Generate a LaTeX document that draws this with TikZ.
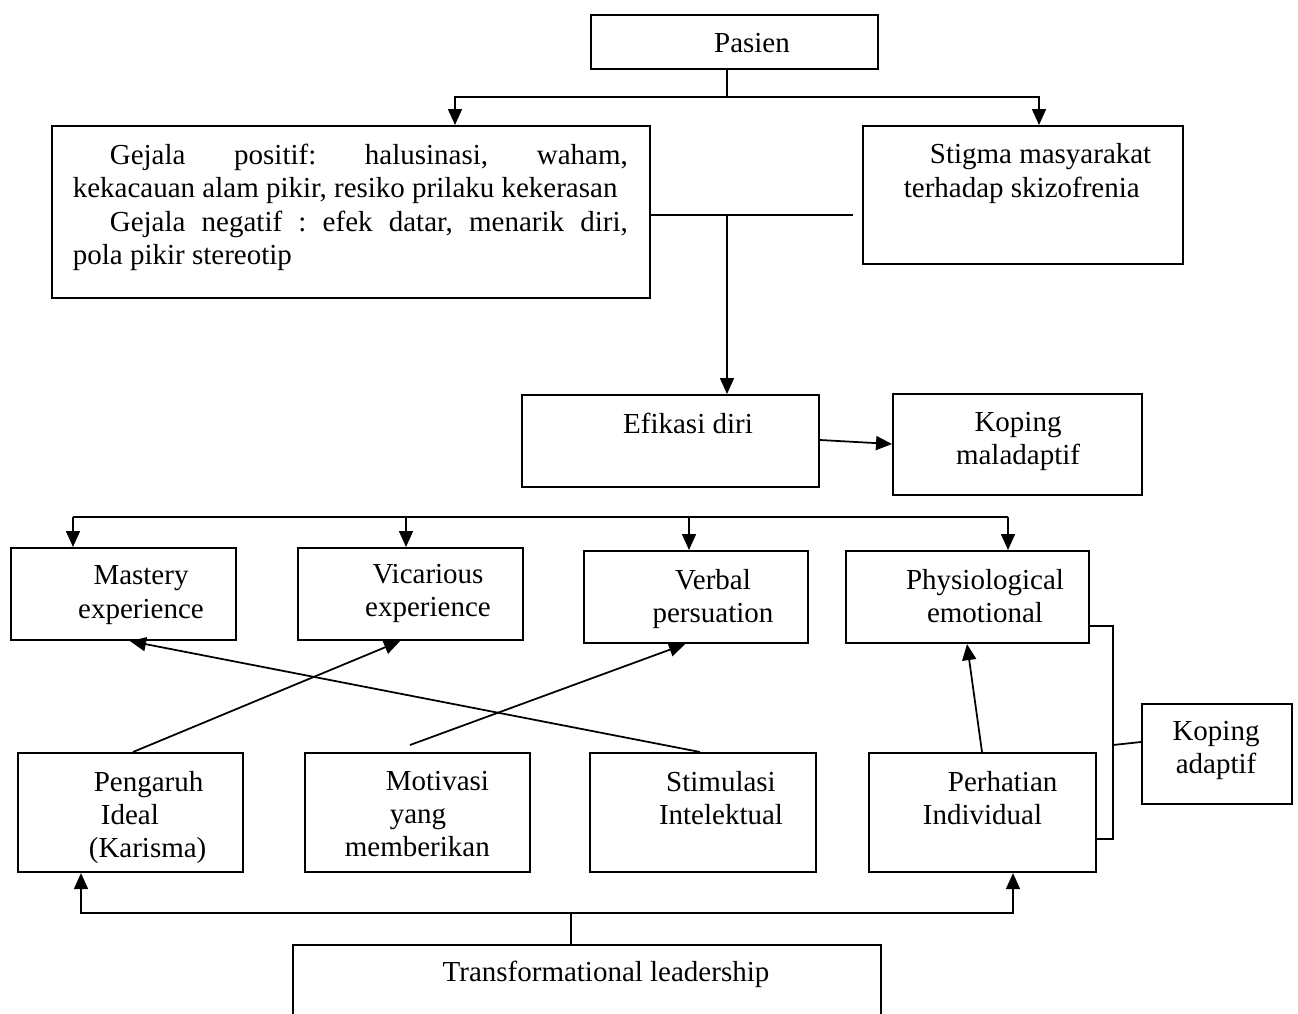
\documentclass[tikz,border=0pt]{standalone}
\usepackage{fontspec}
\setmainfont{Liberation Serif}
\usetikzlibrary{arrows.meta}
\frenchspacing

\begin{document}
\begin{tikzpicture}[x=0.02cm, y=-0.02cm, line width=1pt,
    box/.style={draw, line width=1.2pt, anchor=north west, inner sep=0},
    sz/.style 2 args={minimum width=#1*0.02cm, minimum height=#2*0.02cm},
    txt/.style={font=\fontsize{16.5}{19}\selectfont, inner sep=0, align=center, anchor=north},
    arr/.style={-{Triangle[length=0.32cm, width=0.28cm]}}]
\useasboundingbox (0,0) rectangle (1298,1014);
% boxes
\foreach \n/\x/\y/\w/\h in {pasien/590/14/287/54, gejala/51/125/598/172, stigma/862/125/320/138,
      efikasi/521/394/297/92, maladaptif/892/393/249/101,
      mastery/10/547/225/92, vicarious/297/547/225/92, verbal/583/550/224/92, physio/845/550/243/92,
      pengaruh/17/752/225/119, motivasi/304/752/225/119, stimulasi/589/752/226/119,
      perhatian/868/752/227/119, adaptif/1141/703/150/100}
   \node [box, sz={\w}{\h}] (\n) at (\x,\y) {};
\node [anchor=north west, inner sep=0, sz={586}{69}] (transform) at (293,945) {};
\draw [line width=1.2pt] (transform.south west) |- (transform.north east) -- (transform.south east);
% texts
\foreach \n/\x/\y/\t in {pasien/752/32/{Pasien}, efikasi/688/412/{Efikasi diri},
      maladaptif/1018/411/{Koping\\maladaptif}, mastery/141/565/{Mastery\\experience},
      vicarious/428/563/{Vicarious\\experience}, verbal/713/568/{Verbal\\persuation},
      physio/985/568/{Physiological\\emotional}, stimulasi/721/770/{Stimulasi\\Intelektual},
      adaptif/1216/720/{Koping\\adaptif}, transform/606/960/{Transformational leadership}}
   \node [txt] (\n-t) at (\x,\y) {\t};
\node [txt, anchor=north west, align=justify, text width=11.1cm] (gejala-t) at (72,143)
   {\hspace*{0.74cm}Gejala positif: halusinasi, waham,\linebreak kekacauan alam pikir, resiko prilaku kekerasan\par
    \hspace*{0.74cm}Gejala negatif : efek datar, menarik diri,\linebreak pola pikir stereotip};
\node [txt, anchor=north west, align=left] (stigma-t) at (903,143) {\hspace*{0.52cm}Stigma masyarakat\\terhadap skizofrenia};
\node [txt, anchor=north west, align=left] (pengaruh-t) at (88,770) {\hspace*{0.1cm}Pengaruh\\\hspace*{0.24cm}Ideal\\(Karisma)};
\node [txt, anchor=north west, align=left] (motivasi-t) at (344,770) {\hspace*{0.82cm}Motivasi\\\hspace*{0.9cm}yang\\memberikan};
\node [txt, anchor=north west, align=left] (perhatian-t) at (922,770) {\hspace*{0.5cm}Perhatian\\Individual};
% connectors
\coordinate (top) at (727,97);
\coordinate (mid) at (727,215);
\draw (pasien.south -| top) -- (top);
\draw [arr] (top) -| (455,0 |- gejala.north);
\draw [arr] (top) -| (1039,0 |- stigma.north);
\draw (gejala.east |- mid) -- (853,215);
\draw [arr] (mid) -- (mid |- efikasi.north);
\draw [arr] (efikasi.east |- 0,440) -- (maladaptif.west |- 0,444);
\draw (73,517) -- (1008,517);
\foreach \b/\x in {mastery/73, vicarious/406, verbal/689, physio/1008}
   \draw [arr] (\x,517) -- (\x,0 |- \b.north);
\draw [arr] (700,0 |- stimulasi.north) -- (130,0 |- mastery.south);
\draw [arr] (133,0 |- pengaruh.north) -- (400,0 |- vicarious.south);
\draw [arr] (410,745) -- (685,0 |- verbal.south);
\draw [arr] (982,0 |- perhatian.north) -- (967,0 |- physio.south);
\draw (physio.east |- 0,626) -| (1113,839) -- (perhatian.east |- 0,839);
\draw (1113,745) -- (adaptif.west |- 0,742);
\coordinate (low) at (571,913);
\draw (transform.north -| low) -- (low);
\draw [arr] (low) -| (81,0 |- pengaruh.south);
\draw [arr] (low) -| (1013,0 |- perhatian.south);
\end{tikzpicture}
\end{document}
